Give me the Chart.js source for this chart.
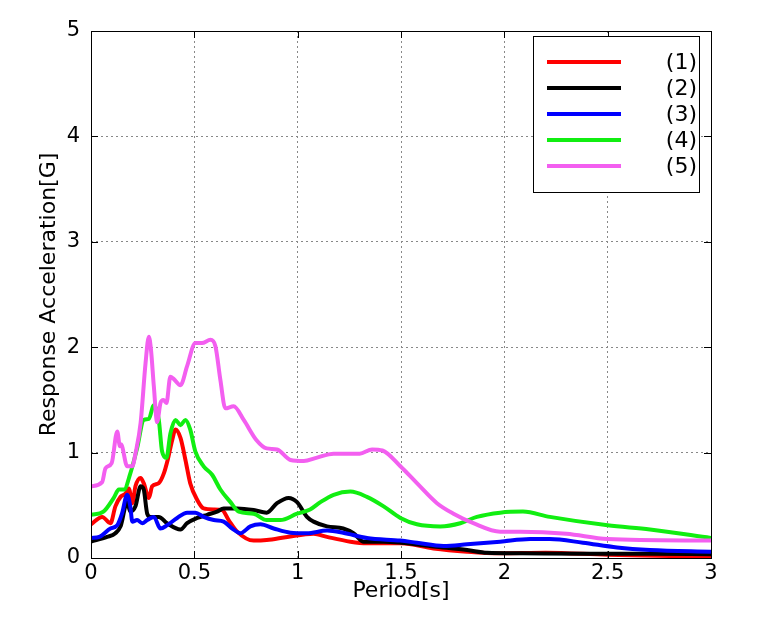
<!DOCTYPE html>
<html>
<head>
<meta charset="utf-8">
<script src="https://cdn.jsdelivr.net/npm/chart.js@4.4.1/dist/chart.umd.min.js"></script>
<style>
  body { margin: 0; background: #fff; }
  canvas { display: block; }
</style>
</head>
<body>
<canvas id="spectrum" width="781" height="620"></canvas>
<script>
// series labels / colours
const labels = ['(1)', '(2)', '(3)', '(4)', '(5)'];
const colors = ['#ff0000', '#000000', '#0000ff', '#11ee11', '#f35ff0'];
const xTickLabels = ['0', '0.5', '1', '1.5', '2', '2.5', '3'];

// period [s] and response acceleration [G]
const p1 = [0, 0.054, 0.094, 0.118, 0.143, 0.167, 0.183, 0.20, 0.215, 0.24, 0.255, 0.28, 0.296, 0.328, 0.352, 0.371, 0.393, 0.409, 0.433, 0.457, 0.48, 0.514, 0.545, 0.594, 0.634, 0.666, 0.707, 0.787, 0.85, 0.95, 1.077, 1.142, 1.255, 1.335, 1.5, 1.657, 1.82, 1.98, 2.2, 2.5, 2.8, 3.0];
const a1 = [0.32, 0.39, 0.33, 0.49, 0.58, 0.61, 0.66, 0.52, 0.68, 0.76, 0.71, 0.57, 0.68, 0.71, 0.80, 0.93, 1.12, 1.22, 1.14, 0.93, 0.71, 0.55, 0.47, 0.46, 0.455, 0.36, 0.25, 0.165, 0.17, 0.20, 0.23, 0.20, 0.155, 0.14, 0.14, 0.09, 0.06, 0.045, 0.05, 0.03, 0.02, 0.01];

const p2 = [0, 0.078, 0.118, 0.143, 0.175, 0.19, 0.215, 0.24, 0.255, 0.272, 0.288, 0.328, 0.368, 0.433, 0.465, 0.514, 0.562, 0.61, 0.642, 0.707, 0.787, 0.85, 0.90, 0.956, 0.997, 1.045, 1.077, 1.142, 1.22, 1.27, 1.32, 1.416, 1.5, 1.657, 1.82, 1.916, 2.077, 2.4, 2.7, 3.0];
const a2 = [0.155, 0.20, 0.235, 0.30, 0.53, 0.44, 0.49, 0.68, 0.65, 0.42, 0.39, 0.39, 0.33, 0.27, 0.33, 0.38, 0.41, 0.44, 0.47, 0.47, 0.455, 0.43, 0.52, 0.57, 0.53, 0.39, 0.345, 0.30, 0.28, 0.235, 0.155, 0.155, 0.145, 0.11, 0.076, 0.05, 0.045, 0.04, 0.04, 0.035];

const p3 = [0, 0.04, 0.094, 0.127, 0.15, 0.175, 0.19, 0.20, 0.223, 0.248, 0.272, 0.304, 0.336, 0.368, 0.417, 0.465, 0.505, 0.545, 0.594, 0.642, 0.683, 0.723, 0.771, 0.82, 0.884, 0.965, 1.045, 1.142, 1.22, 1.335, 1.497, 1.577, 1.706, 1.82, 1.98, 2.125, 2.22, 2.38, 2.545, 2.705, 3.0];
const a3 = [0.19, 0.20, 0.28, 0.31, 0.42, 0.60, 0.49, 0.345, 0.36, 0.33, 0.36, 0.39, 0.28, 0.31, 0.38, 0.43, 0.43, 0.39, 0.36, 0.345, 0.28, 0.235, 0.30, 0.32, 0.28, 0.24, 0.235, 0.26, 0.24, 0.19, 0.165, 0.145, 0.115, 0.13, 0.155, 0.18, 0.18, 0.145, 0.10, 0.076, 0.06];

const p4 = [0, 0.06, 0.11, 0.135, 0.16, 0.19, 0.223, 0.255, 0.28, 0.304, 0.328, 0.344, 0.365, 0.384, 0.409, 0.433, 0.457, 0.48, 0.505, 0.545, 0.586, 0.626, 0.675, 0.715, 0.787, 0.85, 0.916, 0.997, 1.06, 1.11, 1.174, 1.255, 1.335, 1.416, 1.497, 1.577, 1.69, 1.787, 1.867, 1.98, 2.09, 2.22, 2.5, 2.705, 3.0];
const a4 = [0.41, 0.44, 0.57, 0.65, 0.65, 0.80, 1.04, 1.31, 1.32, 1.45, 1.31, 1.01, 0.95, 1.18, 1.31, 1.26, 1.31, 1.22, 1.01, 0.87, 0.79, 0.65, 0.53, 0.44, 0.42, 0.36, 0.36, 0.42, 0.46, 0.53, 0.60, 0.63, 0.58, 0.49, 0.38, 0.32, 0.30, 0.33, 0.39, 0.43, 0.44, 0.39, 0.31, 0.27, 0.19];

const p5 = [0, 0.054, 0.07, 0.10, 0.127, 0.14, 0.145, 0.175, 0.20, 0.215, 0.24, 0.264, 0.28, 0.29, 0.304, 0.32, 0.336, 0.35, 0.365, 0.384, 0.40, 0.433, 0.465, 0.505, 0.537, 0.578, 0.602, 0.626, 0.65, 0.69, 0.739, 0.80, 0.85, 0.90, 0.965, 1.03, 1.09, 1.174, 1.30, 1.36, 1.41, 1.497, 1.577, 1.674, 1.754, 1.85, 1.98, 2.077, 2.30, 2.50, 3.0];
const a5 = [0.68, 0.72, 0.85, 0.90, 1.20, 1.06, 1.08, 0.87, 0.87, 0.99, 1.28, 1.85, 2.10, 1.98, 1.63, 1.29, 1.47, 1.50, 1.47, 1.72, 1.70, 1.64, 1.82, 2.04, 2.04, 2.07, 2.01, 1.69, 1.42, 1.44, 1.31, 1.12, 1.04, 1.03, 0.93, 0.92, 0.95, 0.99, 0.99, 1.03, 1.02, 0.87, 0.71, 0.52, 0.42, 0.33, 0.25, 0.25, 0.23, 0.18, 0.165];

const periods = [p1, p2, p3, p4, p5];
const accels = [a1, a2, a3, a4, a5];

const FONT = 'DejaVu Sans';

function toPoints(xs, ys) {
    return xs.map((x, i) => ({ x: x, y: ys[i] }));
}

// gnuplot-like frame, inward ticks and boxed legend
const framePlugin = {
    id: 'frame',
    afterDatasetsDraw(chart) {
        const ctx = chart.ctx;
        const a = chart.chartArea;
        const xs = chart.scales.x, ys = chart.scales.y;
        ctx.save();
        ctx.strokeStyle = '#000';
        ctx.lineWidth = 1;
        ctx.strokeRect(a.left + 0.5, a.top + 0.5, a.right - a.left, a.bottom - a.top);
        ctx.beginPath();
        xs.ticks.forEach(t => {
            const px = Math.round(xs.getPixelForValue(t.value)) + 0.5;
            ctx.moveTo(px, a.bottom); ctx.lineTo(px, a.bottom - 7);
            ctx.moveTo(px, a.top); ctx.lineTo(px, a.top + 7);
        });
        ys.ticks.forEach(t => {
            const py = Math.round(ys.getPixelForValue(t.value)) + 0.5;
            ctx.moveTo(a.left, py); ctx.lineTo(a.left + 7, py);
            ctx.moveTo(a.right, py); ctx.lineTo(a.right - 7, py);
        });
        ctx.stroke();

        // legend box
        const bx = 533, by = 36, bw = 166, bh = 156;
        ctx.fillStyle = '#fff';
        ctx.fillRect(bx, by, bw, bh);
        ctx.strokeRect(bx + 0.5, by + 0.5, bw, bh);
        ctx.font = '22px ' + FONT;
        ctx.textAlign = 'right';
        ctx.textBaseline = 'middle';
        chart.data.datasets.forEach((ds, i) => {
            const ly = 62 + i * 26;
            ctx.strokeStyle = ds.borderColor;
            ctx.lineWidth = 4;
            ctx.beginPath();
            ctx.moveTo(547, ly);
            ctx.lineTo(621, ly);
            ctx.stroke();
            ctx.fillStyle = '#000';
            ctx.fillText(ds.label, 697, ly + 1);
        });
        ctx.restore();
    }
};

const ctx = document.getElementById('spectrum').getContext('2d');
const chart = new Chart(ctx, {
    type: 'line',
    data: {
        datasets: labels.map((lab, i) => ({
            label: lab,
            data: toPoints(periods[i], accels[i]),
            borderColor: colors[i],
            backgroundColor: colors[i],
            borderWidth: 4,
            pointRadius: 0,
            cubicInterpolationMode: 'monotone',
            fill: false,
            order: labels.length - i // later series on top
        }))
    },
    options: {
        responsive: false,
        animation: false,
        layout: { padding: { left: 36, top: 31, right: 70, bottom: 16 } },
        plugins: {
            legend: { display: false },
            tooltip: { enabled: false }
        },
        scales: {
            x: {
                type: 'linear',
                min: 0,
                max: 3,
                ticks: {
                    stepSize: 0.5,
                    color: '#000',
                    padding: 3,
                    font: { family: FONT, size: 21 },
                    callback: (v, i) => xTickLabels[i]
                },
                grid: { color: '#888', drawTicks: false },
                border: { display: false, dash: [2, 3] },
                title: {
                    display: true,
                    text: 'Period[s]',
                    color: '#000',
                    padding: 0,
                    font: { family: FONT, size: 22 }
                },
                afterFit: function (scale) { scale.height = 46; }
            },
            y: {
                min: 0,
                max: 5,
                ticks: {
                    stepSize: 1,
                    color: '#000',
                    padding: 11,
                    font: { family: FONT, size: 21 }
                },
                grid: { color: '#888', drawTicks: false },
                border: { display: false, dash: [2, 3] },
                title: {
                    display: true,
                    text: 'Response Acceleration[G]',
                    color: '#000',
                    padding: 0,
                    font: { family: FONT, size: 22 }
                },
                afterFit: function (scale) { scale.width = 55; }
            }
        }
    },
    plugins: [framePlugin]
});
</script>
</body>
</html>
